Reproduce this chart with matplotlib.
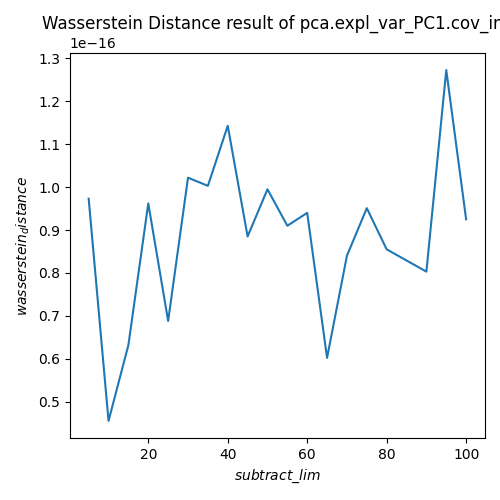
import matplotlib
matplotlib.use("Agg")
import matplotlib.pyplot as plt

subtract_lim = [5, 10, 15, 20, 25, 30, 35, 40, 45, 50, 55, 60, 65, 70, 75, 80, 85, 90, 95, 100]
distance = [0.973, 0.455, 0.632, 0.962, 0.688, 1.022, 1.003, 1.143, 0.885, 0.995,
            0.910, 0.940, 0.602, 0.840, 0.951, 0.855, 0.829, 0.803, 1.273, 0.925]
distance = [v * 1e-16 for v in distance]

plt.figure(figsize=(5, 5), dpi=100)
plt.plot(subtract_lim, distance)
plt.title("Wasserstein Distance result of pca.expl_var_PC1.cov_inv")
plt.xlabel("$subtract\\_lim$")
plt.ylabel("$wasserstein_distance$")
plt.tight_layout()
plt.savefig("out.png")
